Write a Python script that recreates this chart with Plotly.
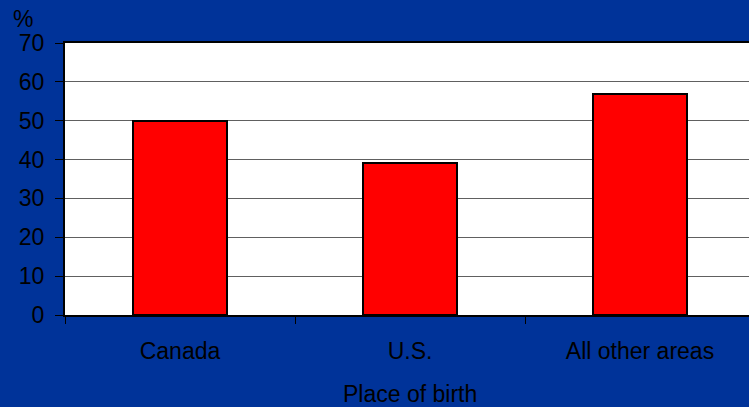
import plotly.graph_objects as go

categories = ["Canada", "U.S.", "All other areas"]
values = [50, 39, 57]
y_ticks = [0, 10, 20, 30, 40, 50, 60, 70]

BG = "#003399"
FONT = "Liberation Sans, Arial, sans-serif"
FS = 23

fig = go.Figure()
fig.add_trace(go.Bar(
    x=categories, y=values,
    marker=dict(color="#ff0000", line=dict(color="#000000", width=2)),
    width=0.405,
))

fig.update_layout(
    width=749, height=407,
    margin=dict(l=65, r=0, t=43, b=92),
    paper_bgcolor=BG, plot_bgcolor="#ffffff",
    showlegend=False,
    font=dict(family=FONT, color="#000000", size=FS),
    bargap=0,
)
fig.update_xaxes(
    type="category",
    range=[-0.5, -0.5 + 684 / 230],
    showline=True, linecolor="#000000", linewidth=2, mirror=True,
    ticks="outside", tickson="boundaries", ticklen=7, tickcolor="#000000", tickwidth=1,
    ticklabelstandoff=14,
    tickfont=dict(size=FS, family=FONT, color="#000000"),
    showgrid=False, zeroline=False,
)
fig.update_yaxes(
    range=[0, 70],
    tickvals=y_ticks,
    showline=True, linecolor="#000000", linewidth=2,
    ticks="outside", ticklen=8, tickcolor="#000000", tickwidth=1,
    ticklabelstandoff=6,
    tickfont=dict(size=FS, family=FONT, color="#000000"),
    showgrid=True, gridcolor="#606060", gridwidth=1,
    zeroline=False,
)
fig.add_annotation(
    text="%", xref="paper", yref="paper",
    x=(23 - 65) / 684, y=1 + (43 - 19) / 272,
    xanchor="center", yanchor="middle", showarrow=False,
    font=dict(size=FS, family=FONT, color="#000000"),
)
fig.add_annotation(
    text="Place of birth", xref="x", yref="paper",
    x=1, y=-(394 - 315) / 272,
    xanchor="center", yanchor="middle", showarrow=False,
    font=dict(size=FS, family=FONT, color="#000000"),
)

fig.write_html("out.html")
